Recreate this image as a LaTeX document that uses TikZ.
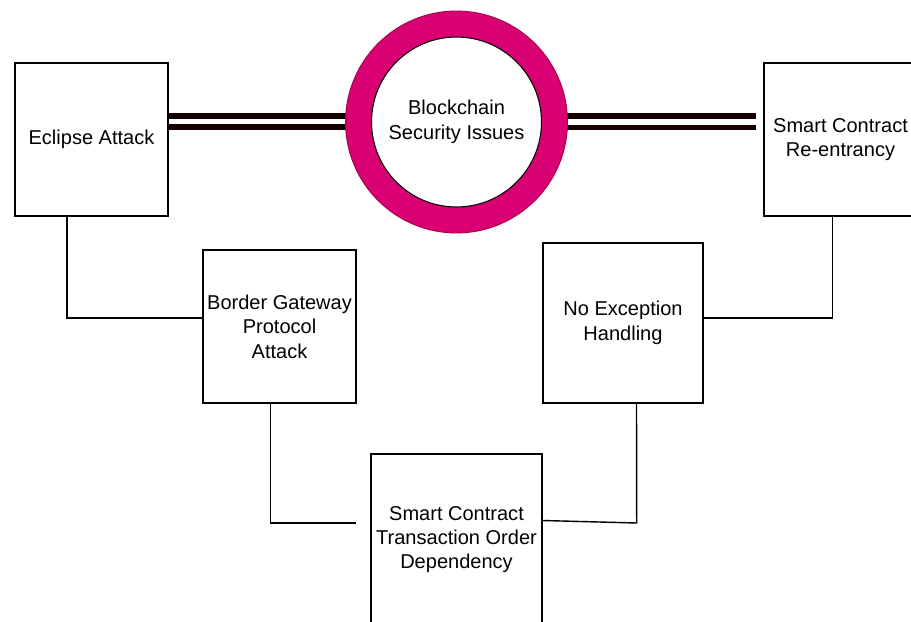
\documentclass[tikz,border=0pt]{standalone}
\usepackage{fontspec}
\setmainfont{Liberation Sans}
\usepackage{tikz}
\tikzset{every picture/.style={line width=0.8pt}}
\definecolor{ringpink}{HTML}{D80073}
\definecolor{ringedge}{HTML}{A50040}
\definecolor{linkdark}{RGB}{25,0,0}

\begin{document}
\begin{tikzpicture}[x=0.02cm,y=-0.02cm,
    every node/.style={font=\fontsize{11.4}{13.9}\selectfont, align=center, inner sep=0pt},
    box/.style={draw, rectangle, minimum size=#1},
    ring/.style={circle, fill=ringpink, draw=ringedge, line width=0.5pt, minimum size=4.44cm},
    hub/.style={circle, fill=white, draw, line width=0.6pt, minimum size=3.4cm},
    link/.style={draw=linkdark, line width=0.12cm}]
        \useasboundingbox (0,0) rectangle (911,621);
        \clip (0,0) rectangle (911,621);
        \node[box=3.06cm] (ecl) at (91.5,139.5) {Eclipse Attack};
        \node[box=3.06cm] (reent) at (840.5,139.5) {Smart Contract\\Re-entrancy};
        \node[box=3.06cm] (bgp) at (279.5,326.5) {Border Gateway\\Protocol\\Attack};
        \node[box=3.2cm] (noexc) at (623,323) {No Exception\\Handling};
        \node[box=3.42cm] (todep) at (456.5,539.5) {Smart Contract\\Transaction Order\\Dependency};
        \coordinate (bgpend) at (356,523);
        \coordinate (nebend) at (636.7,523);
        % links to the hub
        \draw[link] ([yshift=0.48cm]ecl.east) -- ++(177.5,0);
        \draw[link] ([yshift=0.25cm]ecl.east) -- ++(177.5,0);
        \draw[link] ([xshift=-0.14cm,yshift=0.47cm]reent.west) -- ++(-190,0);
        \draw[link] ([xshift=-0.14cm,yshift=0.24cm]reent.west) -- ++(-190,0);
        \node[ring] (ring) at (456.5,122) {};
        \node[hub] (hub) at (ring) {Blockchain\\Security Issues};
        % tree connectors
        \draw ([xshift=-0.49cm]ecl.south) |- ([yshift=0.17cm]bgp.west);
        \draw ([xshift=-0.16cm]reent.south) |- ([yshift=0.1cm]noexc.east);
        \draw ([xshift=-0.18cm]bgp.south) |- (bgpend);
        \draw ([xshift=0.27cm]noexc.south) -- (nebend) -- ([yshift=0.38cm]todep.east);
    \end{tikzpicture}
\end{document}
